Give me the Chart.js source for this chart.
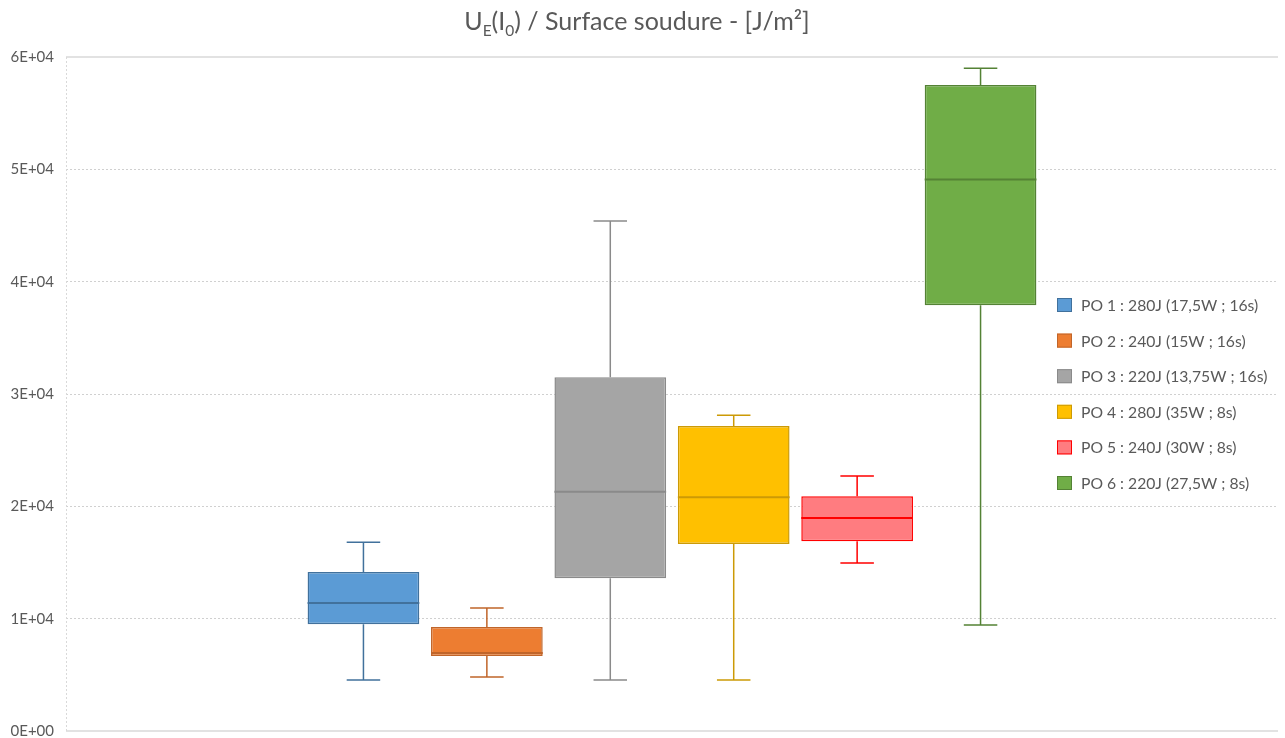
<!DOCTYPE html>
<html>
<head>
<meta charset="utf-8">
<script src="https://cdn.jsdelivr.net/npm/chart.js@4.4.1/dist/chart.umd.min.js"></script>
<style>
html,body{margin:0;padding:0;background:#fff;overflow:hidden;}
canvas{display:block;}
</style>
</head>
<body>
<canvas id="c" width="1285" height="738"></canvas>
<script>
const seriesLabels = [
  "PO 1 : 280J (17,5W ; 16s)",
  "PO 2 : 240J (15W ; 16s)",
  "PO 3 : 220J (13,75W ; 16s)",
  "PO 4 : 280J (35W ; 8s)",
  "PO 5 : 240J (30W ; 8s)",
  "PO 6 : 220J (27,5W ; 8s)"
];
const categories = [""];
const mins    = [4540, 4800, 4540, 4540, 14960, 9440];
const q1s     = [9500, 6680, 13600, 16650, 16900, 37900];
const medians = [11400, 6940, 21300, 20800, 18960, 49100];
const q3s     = [14150, 9260, 31500, 27150, 20900, 57500];
const maxs    = [16800, 10950, 45400, 28100, 22700, 59000];
const yTicks  = [0, 10000, 20000, 30000, 40000, 50000, 60000];

const fills   = ["#5B9BD5", "#ED7D31", "#A5A5A5", "#FFC000", "#FF7C80", "#70AD47"];
const borders = ["#41719C", "#C0652A", "#8A8A8A", "#CC9A06", "#FF0000", "#548235"];
const TXT = "#595959";
const FONT = "Lato, 'Open Sans', sans-serif";

function fmtExp(v){
  let s = Number(v).toExponential(0).replace("e", "E");
  return s.replace(/E([+-])(\d)$/, "E$10$2");
}

const datasets = seriesLabels.map((lab, i) => ({
  label: lab,
  data: [[q1s[i], q3s[i]]],
  backgroundColor: fills[i],
  borderColor: borders[i],
  borderWidth: 1.5,
  borderSkipped: false,
  barPercentage: 0.905,
  categoryPercentage: 0.611
}));

const boxPlugin = {
  id: "boxExtras",
  beforeDatasetsDraw(chart){
    const {ctx, chartArea: a} = chart;
    ctx.save();
    ctx.strokeStyle = "#D9D9D9";
    ctx.lineWidth = 1;
    ctx.setLineDash([2,2]);
    ctx.beginPath();
    ctx.moveTo(a.left + 0.5, a.top);
    ctx.lineTo(a.left + 0.5, a.bottom);
    ctx.stroke();
    ctx.setLineDash([]);
    ctx.lineWidth = 1.5;
    ctx.beginPath();
    ctx.moveTo(a.left, a.bottom); ctx.lineTo(a.right, a.bottom);
    ctx.moveTo(a.left, a.top); ctx.lineTo(a.right, a.top);
    ctx.stroke();
    const y = chart.scales.y;
    chart.data.datasets.forEach((ds, i) => {
      const meta = chart.getDatasetMeta(i);
      meta.data.forEach((bar) => {
        const x = bar.x;
        const cw = bar.width * 0.3;
        ctx.strokeStyle = borders[i];
        ctx.lineWidth = 1.5;
        ctx.beginPath();
        const yMax = y.getPixelForValue(maxs[i]);
        const yQ3 = y.getPixelForValue(q3s[i]);
        const yQ1 = y.getPixelForValue(q1s[i]);
        const yMin = y.getPixelForValue(mins[i]);
        ctx.moveTo(x, yMax); ctx.lineTo(x, yQ3);
        ctx.moveTo(x, yQ1); ctx.lineTo(x, yMin);
        ctx.moveTo(x - cw/2, yMax); ctx.lineTo(x + cw/2, yMax);
        ctx.moveTo(x - cw/2, yMin); ctx.lineTo(x + cw/2, yMin);
        ctx.stroke();
      });
    });
    ctx.restore();
  },
  afterDatasetsDraw(chart){
    const {ctx} = chart;
    const y = chart.scales.y;
    ctx.save();
    chart.data.datasets.forEach((ds, i) => {
      const meta = chart.getDatasetMeta(i);
      meta.data.forEach((bar) => {
        const ym = y.getPixelForValue(medians[i]);
        ctx.strokeStyle = borders[i];
        ctx.lineWidth = 2;
        ctx.beginPath();
        ctx.moveTo(bar.x - bar.width/2, ym);
        ctx.lineTo(bar.x + bar.width/2, ym);
        ctx.stroke();
      });
    });
    ctx.restore();
  },
  afterDraw(chart){
    const {ctx} = chart;
    ctx.save();
    const big = "25px " + FONT, small = "15.5px " + FONT;
    const parts = [
      ["U", big, 0], ["E", small, 6], ["(I", big, 0], ["0", small, 6], [") / Surface soudure - [J/m²]", big, 0]
    ];
    let total = 0;
    parts.forEach(p => { ctx.font = p[1]; total += ctx.measureText(p[0]).width; });
    let x = 637 - total/2;
    const baseY = 30;
    ctx.fillStyle = TXT;
    ctx.textBaseline = "alphabetic";
    ctx.textAlign = "left";
    parts.forEach(p => { ctx.font = p[1]; ctx.fillText(p[0], x, baseY + p[2]); x += ctx.measureText(p[0]).width; });
    const lx = 1057, ly0 = 305, step = 35.6;
    ctx.font = "15.7px " + FONT;
    ctx.textBaseline = "middle";
    chart.data.datasets.forEach((ds, i) => {
      const yy = ly0 + i*step;
      ctx.fillStyle = fills[i];
      ctx.fillRect(lx, yy - 7, 15, 14);
      ctx.strokeStyle = borders[i];
      ctx.lineWidth = 1;
      ctx.strokeRect(lx + 0.5, yy - 6.5, 14, 13);
      ctx.fillStyle = TXT;
      ctx.fillText(ds.label, 1081, yy + 1);
    });
    ctx.restore();
  }
};

new Chart(document.getElementById("c"), {
  type: "bar",
  data: { labels: categories, datasets },
  options: {
    responsive: false,
    animation: false,
    devicePixelRatio: 1,
    layout: { padding: { top: 57, right: 7, bottom: 7, left: 0 } },
    plugins: { legend: { display: false }, title: { display: false }, tooltip: { enabled: false } },
    scales: {
      x: { display: false, offset: true },
      y: {
        min: 0, max: 60000,
        afterFit(scale){ scale.width = 66; scale.paddingTop = 0; scale.paddingBottom = 0; },
        afterBuildTicks(scale){ scale.ticks = yTicks.map(v => ({ value: v })); },
        ticks: {
          color: TXT,
          font: { family: FONT, size: 15 },
          padding: 12,
          callback: v => fmtExp(v)
        },
        grid: {
          drawTicks: false,
          color: ctx => (ctx.tick && (ctx.tick.value === 0 || ctx.tick.value === 60000)) ? "rgba(0,0,0,0)" : "#D0D0D0",
          lineWidth: 1
        },
        border: { display: false, dash: [2, 2] }
      }
    }
  },
  plugins: [boxPlugin]
});
</script>
</body>
</html>
